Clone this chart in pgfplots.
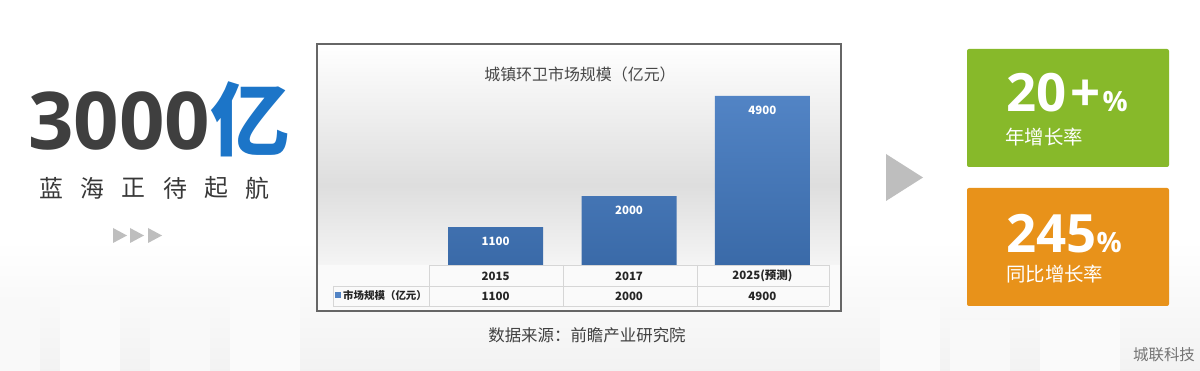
\documentclass[border=0pt]{standalone}
\usepackage{pgfplots}
\pgfplotsset{compat=1.18}
\usepackage{pgfplotstable}
\usepackage{fontspec}
\setmainfont{Noto Sans CJK SC}
\newfontfamily\os{Open Sans}
\definecolor{barTop}{RGB}{82,132,197}
\definecolor{barBot}{RGB}{58,106,168}
\definecolor{gbox}{RGB}{135,185,42}
\definecolor{obox}{RGB}{232,146,26}
\definecolor{bigblue}{RGB}{28,117,200}
\definecolor{darktxt}{RGB}{63,63,63}
\definecolor{tri}{RGB}{190,190,190}
\definecolor{gridc}{RGB}{214,214,214}
\newcommand{\fs}[1]{\fontsize{#1}{#1}\selectfont}

\pgfplotstableread{
x y
0 1100
1 2000
2 4900
}\datatable

\begin{document}
\begin{tikzpicture}
\useasboundingbox (0,0) rectangle (1200bp,371bp);
\fill[white] (0,0) rectangle (1200bp,371bp);
\begin{scope}[x=1bp,y=-1bp,shift={(0bp,371bp)}]
  % faint skyline background
  \shade[top color=white,bottom color=black!5] (0,240) rectangle (1200,371);
  \fill[black!2.5] (0,300) rectangle (40,371);
  \fill[black!2] (60,285) rectangle (120,371);
  \fill[black!2.5] (150,310) rectangle (210,371);
  \fill[black!2] (230,295) rectangle (300,371);
  \fill[black!2] (880,300) rectangle (940,371);
  \fill[black!2.5] (950,320) rectangle (1010,371);
  \fill[black!2] (1040,300) rectangle (1120,371);
  % chart background
  \shade[top color=white, bottom color=black!13] (317,44) rectangle (841,185);
  \shade[top color=black!13, bottom color=black!4] (317,185) rectangle (841,265);
  \fill[black!2] (317,265) rectangle (841,311);
  \draw[black!60,line width=1.5bp] (317,44) rectangle (841,311);
  % data table grid
  \draw[gridc, line width=0.8bp]
    (429,265) -- (829,265) (333,286) -- (829,286) (333,306) -- (829,306)
    (333,286) -- (333,306) (429,265) -- (429,306) (563,265) -- (563,306)
    (697,265) -- (697,306) (829,265) -- (829,306);
\end{scope}

\begin{axis}[
  at={(429bp,106bp)}, anchor=south west,
  width=400bp, height=193.2bp, scale only axis,
  xmin=-0.5, xmax=2.5, ymin=0, ymax=5600,
  axis line style={draw=none}, major tick length=0pt,
  ytick=\empty,
  xtick={0,1,2}, xticklabels={2015,2017,2025(预测)},
  xticklabel style={font=\bfseries\fs{11.5}, anchor=center, yshift=-11bp, text=black!85},
  ybar, bar width=95bp,
  nodes near coords,
  every node near coord/.append style={text=white, font=\bfseries\fs{11.5}, anchor=center, yshift=-14bp},
  /pgf/number format/1000 sep={},
  /pgf/number format/assume math mode=true,
  clip=false,
]
\addplot[draw=none, top color=barTop, bottom color=barBot] table[x=x,y=y]{\datatable};
\node[font=\bfseries\fs{11.5}, text=black!85] at (axis cs:0,0) [yshift=-31bp] {1100};
\node[font=\bfseries\fs{11.5}, text=black!85] at (axis cs:1,0) [yshift=-31bp] {2000};
\node[font=\bfseries\fs{11.5}, text=black!85] at (axis cs:2,0) [yshift=-31bp] {4900};
\end{axis}

\begin{scope}[x=1bp,y=-1bp,shift={(0bp,371bp)}, every node/.style={inner sep=0pt}]
  % legend in table
  \fill[barTop] (335,292) rectangle (341,298);
  \node[anchor=west, font=\bfseries\fs{10.5}, text=black!85] at (343,296) {市场规模（亿元）};
  % chart title
  \node[text=black!72, font=\fs{16}] at (580,74) {城镇环卫市场规模（亿元）};
  % source
  \node[text=black!75, font=\fs{16.5}] at (587,335) {数据来源：前瞻产业研究院};
  % left block
  \node[anchor=base west] at (28,150) {\color{darktxt}\os\bfseries\fs{80}3000\color{bigblue}\rmfamily\bfseries\fs{80}亿};
  \foreach \c/\xx in {蓝/51,海/92,正/133,待/175,起/216,航/257}
    \node[text=black!78, font=\fs{24}] at (\xx,188) {\c};
  \foreach \xx in {113,130,148}
    \fill[tri] (\xx,228) -- (\xx,243) -- (\xx+14,235.5) -- cycle;
  % big arrow
  \fill[tri] (886,154) -- (886,201) -- (923,177.5) -- cycle;
  % boxes
  \fill[gbox, rounded corners=2bp] (967,49) rectangle (1169,167);
  \fill[obox, rounded corners=2bp] (967,188) rectangle (1169,306);
  \node[anchor=base west, text=white] at (1006,112) {\os\bfseries\fs{53}20\kern4bp+\kern2bp\fs{28}\%};
  \node[anchor=west, text=white, font=\fs{19.5}] at (1005,137) {年增长率};
  \node[anchor=base west, text=white] at (1006,253) {\os\bfseries\fs{53}245\fs{28}\%};
  \node[anchor=west, text=white, font=\fs{19.5}] at (1006,274) {同比增长率};
  % watermark
  \node[text=black!55, font=\fs{15.5}] at (1164,355) {城联科技};
\end{scope}
\end{tikzpicture}
\end{document}
